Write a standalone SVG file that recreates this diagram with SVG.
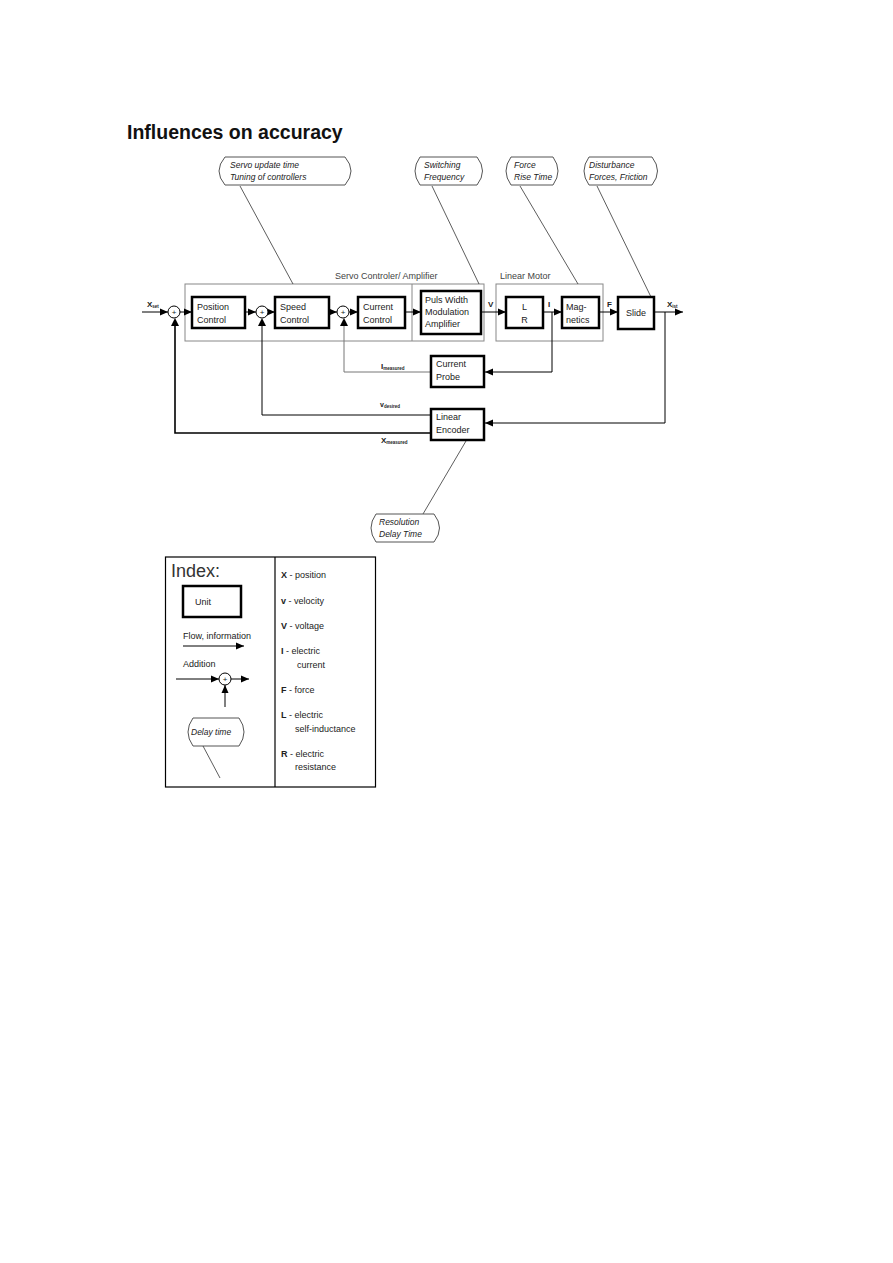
<svg xmlns="http://www.w3.org/2000/svg" width="893" height="1263" viewBox="0 0 893 1263">
<defs>
<marker id="ah" viewBox="0 0 8 8" refX="8" refY="4" markerWidth="8" markerHeight="8" markerUnits="userSpaceOnUse" orient="auto">
<path d="M0,0.5 L8,4 L0,7.5 Z" fill="#000"/>
</marker>
<style>
text{font-family:"Liberation Sans",Arial,sans-serif;fill:#222}
.t{font-size:9px}
.it{font-size:8.5px;font-style:italic}
.b{font-weight:bold}
.blk{fill:#fff;stroke:#000;stroke-width:2.5}
.grp{fill:none;stroke:#888;stroke-width:1}
.call{fill:#fff;stroke:#555;stroke-width:1}
.ptr{stroke:#333;stroke-width:0.8;fill:none}
.ln{stroke:#000;stroke-width:1;fill:none}
.lnA{stroke:#000;stroke-width:1;fill:none;marker-end:url(#ah)}
.lnG{stroke:#777;stroke-width:1;fill:none}
.sum{fill:#fff;stroke:#000;stroke-width:1}
.sub{font-size:4.5px;font-weight:bold}
</style>
</defs>
<rect width="893" height="1263" fill="#fff"/>
<text x="127" y="139" font-size="19.5" font-weight="bold" style="fill:#111">Influences on accuracy</text>

<!-- group frames -->
<g id="servo-group">
<rect class="grp" x="185" y="284" width="299" height="57"/>
<line class="grp" x1="412" y1="284" x2="412" y2="341"/>
<text class="t" x="335" y="279" style="fill:#444">Servo Controler/ Amplifier</text>
</g>
<g id="motor-group">
<rect class="grp" x="496" y="284" width="107" height="57"/>
<text class="t" x="500" y="279" style="fill:#444">Linear Motor</text>
</g>

<!-- connectors -->
<g id="connectors">
<line class="lnA" x1="142" y1="312" x2="168" y2="312"/>
<line class="lnA" x1="180" y1="312" x2="192" y2="312"/>
<line class="lnA" x1="245" y1="312" x2="256" y2="312"/>
<line class="lnA" x1="268" y1="312" x2="275" y2="312"/>
<line class="lnA" x1="329" y1="312" x2="337" y2="312"/>
<line class="lnA" x1="349" y1="312" x2="358" y2="312"/>
<line class="lnA" x1="405" y1="312" x2="421" y2="312"/>
<line class="lnA" x1="481" y1="312" x2="506" y2="312"/>
<line class="lnA" x1="543" y1="312" x2="562" y2="312"/>
<line class="lnA" x1="599" y1="312" x2="618" y2="312"/>
<line class="lnA" x1="654" y1="312" x2="683" y2="312"/>
<polyline class="lnA" points="552,312 552,372 485,372"/>
<polyline class="lnG" points="430,372 344,372 344,324"/>
<path d="M340,326 L344,318 L348,326 Z" fill="#000"/>
<polyline class="lnA" points="665,312 665,423 485,423"/>
<polyline class="ln" points="431,415 262,415 262,326"/>
<path d="M258,326 L262,318 L266,326 Z" fill="#000"/>
<polyline class="ln" points="431,433 175,433 175,326" style="stroke-width:1.6"/>
<path d="M171,326 L175,318 L179,326 Z" fill="#000"/>
<line class="ptr" x1="240" y1="186" x2="293" y2="284"/>
<line class="ptr" x1="432" y1="186" x2="479" y2="284"/>
<line class="ptr" x1="520" y1="186" x2="578" y2="284"/>
<line class="ptr" x1="597" y1="186" x2="651" y2="297"/>
<line class="ptr" x1="423" y1="514" x2="466" y2="441"/>
</g>

<!-- summing junctions -->
<g id="sum1"><circle class="sum" cx="174" cy="312" r="6"/><text x="174" y="315" font-size="8" text-anchor="middle">+</text></g>
<g id="sum2"><circle class="sum" cx="262" cy="312" r="6"/><text x="262" y="315" font-size="8" text-anchor="middle">+</text></g>
<g id="sum3"><circle class="sum" cx="343" cy="312" r="6"/><text x="343" y="315" font-size="8" text-anchor="middle">+</text></g>

<!-- blocks -->
<g id="position-control"><rect class="blk" x="192" y="297" width="53" height="31"/><text class="t" x="197" y="310">Position</text><text class="t" x="197" y="323">Control</text></g>
<g id="speed-control"><rect class="blk" x="275" y="297" width="54" height="31"/><text class="t" x="280" y="310">Speed</text><text class="t" x="280" y="323">Control</text></g>
<g id="current-control"><rect class="blk" x="358" y="297" width="47" height="31"/><text class="t" x="363" y="310">Current</text><text class="t" x="363" y="323">Control</text></g>
<g id="pwm"><rect class="blk" x="421" y="291" width="60" height="43"/><text class="t" x="425" y="303">Puls Width</text><text class="t" x="425" y="315">Modulation</text><text class="t" x="425" y="327">Amplifier</text></g>
<g id="lr"><rect class="blk" x="506" y="297" width="37" height="31"/><text class="t" x="524.5" y="310" text-anchor="middle">L</text><text class="t" x="524.5" y="323" text-anchor="middle">R</text></g>
<g id="magnetics"><rect class="blk" x="562" y="297" width="37" height="31"/><text class="t" x="566" y="310">Mag-</text><text class="t" x="566" y="323">netics</text></g>
<g id="slide"><rect class="blk" x="618" y="297" width="36" height="32"/><text class="t" x="636" y="316" text-anchor="middle">Slide</text></g>
<g id="current-probe"><rect class="blk" x="431" y="356" width="53" height="31"/><text class="t" x="436" y="367">Current</text><text class="t" x="436" y="380">Probe</text></g>
<g id="linear-encoder"><rect class="blk" x="431" y="409" width="53" height="31"/><text class="t" x="436" y="420">Linear</text><text class="t" x="436" y="433">Encoder</text></g>

<!-- signal labels -->
<g id="labels">
<text class="b" x="147" y="307" font-size="8">X<tspan class="sub" dy="1">set</tspan></text>
<text class="b" x="488" y="307" font-size="8">V</text>
<text class="b" x="548" y="307" font-size="8">I</text>
<text class="b" x="607" y="307" font-size="8">F</text>
<text class="b" x="667" y="307" font-size="8">X<tspan class="sub" dy="1">ist</tspan></text>
<text class="b" x="381" y="369" font-size="8">I<tspan class="sub" dy="1">measured</tspan></text>
<text class="b" x="380" y="407" font-size="7">v<tspan class="sub" dy="1">desired</tspan></text>
<text class="b" x="381" y="443" font-size="8">X<tspan class="sub" dy="1">measured</tspan></text>
</g>

<!-- callouts -->
<g id="callout-servo"><path class="call" d="M225,157 L345,157 Q357,171 345,185 L225,185 Q213,171 225,157 Z"/><text class="it" x="230" y="168">Servo update time</text><text class="it" x="230" y="180">Tuning of controllers</text></g>
<g id="callout-switching"><path class="call" d="M420,157 L477,157 Q488,171 477,185 L420,185 Q410,171 420,157 Z"/><text class="it" x="424" y="168">Switching</text><text class="it" x="424" y="180">Frequency</text></g>
<g id="callout-force"><path class="call" d="M511,157 L553,157 Q563,171 553,185 L511,185 Q501,171 511,157 Z"/><text class="it" x="514" y="168">Force</text><text class="it" x="514" y="180">Rise Time</text></g>
<g id="callout-disturbance"><path class="call" d="M589,157 L652,157 Q663,171 652,185 L589,185 Q579,171 589,157 Z"/><text class="it" x="589" y="168">Disturbance</text><text class="it" x="589" y="180">Forces, Friction</text></g>
<g id="callout-resolution"><path class="call" d="M376,514 L434,514 Q445,528 434,542 L376,542 Q366,528 376,514 Z"/><text class="it" x="379" y="525">Resolution</text><text class="it" x="379" y="537">Delay Time</text></g>

<!-- index legend -->
<g id="index">
<rect x="165.5" y="557" width="210" height="230" fill="none" stroke="#000" stroke-width="1.2"/>
<line x1="275" y1="557" x2="275" y2="787" stroke="#000" stroke-width="1.2"/>
<text x="171" y="577" font-size="18" style="fill:#333">Index:</text>
<rect class="blk" x="183" y="586" width="58" height="31"/>
<text class="t" x="195" y="605">Unit</text>
<text class="t" x="183" y="639" font-size="8.5">Flow, information</text>
<line class="lnA" x1="183" y1="646" x2="244" y2="646"/>
<text class="t" x="183" y="667">Addition</text>
<line class="lnA" x1="176" y1="679" x2="219" y2="679"/>
<circle class="sum" cx="225" cy="679" r="6"/>
<text x="225" y="682" font-size="8" text-anchor="middle">+</text>
<line class="lnA" x1="231" y1="679" x2="249" y2="679"/>
<line class="lnA" x1="225" y1="707" x2="225" y2="685"/>
<path class="call" d="M193,718 L239,718 Q249,732 239,746 L193,746 Q183,732 193,718 Z"/>
<text class="it" x="191" y="735">Delay time</text>
<line class="ptr" x1="203" y1="746" x2="220" y2="778"/>
<text class="t" x="281" y="578" font-size="9.5"><tspan class="b">X</tspan>  -  position</text>
<text class="t" x="281" y="604" font-size="9.5"><tspan class="b">v</tspan>  - velocity</text>
<text class="t" x="281" y="629" font-size="9.5"><tspan class="b">V</tspan>  - voltage</text>
<text class="t" x="281" y="654" font-size="9.5"><tspan class="b">I</tspan>  -  electric</text>
<text class="t" x="297" y="668" font-size="9.5">current</text>
<text class="t" x="281" y="693" font-size="9.5"><tspan class="b">F</tspan>  - force</text>
<text class="t" x="281" y="718" font-size="9.5"><tspan class="b">L</tspan>  - electric</text>
<text class="t" x="295" y="732" font-size="9.5">self-inductance</text>
<text class="t" x="281" y="757" font-size="9.5"><tspan class="b">R</tspan>  - electric</text>
<text class="t" x="295" y="770" font-size="9.5">resistance</text>
</g>
</svg>
